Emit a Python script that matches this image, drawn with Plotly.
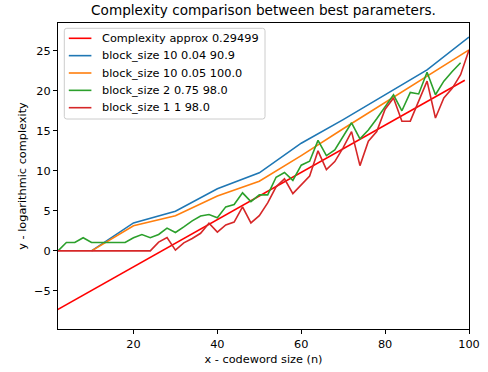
import plotly.graph_objects as go

# Approximation line (endpoints)
approx_x = [0, 99]
approx_y = [-7.88, 21.32]

# block_size 10 series
b10_x = [10, 20, 30, 40, 50, 60, 70, 80, 90, 100]
blue_y = [0, 3.5, 4.95, 7.75, 9.75, 13.45, 16.4, 19.5, 22.6, 26.7]
orange_y = [0, 3.15, 4.4, 6.85, 8.7, 11.9, 15.25, 18.5, 21.8, 25.1]

# block_size 2 series
green_x = list(range(2, 100, 2))
green_y = [0, 1.05, 1.05, 1.65, 1.05, 1.05, 1.05, 1.05, 1.05, 1.65,
           2.05, 1.65, 2.05, 2.85, 2.3, 3.0, 3.75, 4.35, 4.55, 4.15,
           5.5, 5.8, 7.25, 6.15, 7.0, 7.0, 9.2, 9.8, 8.8, 10.7,
           11.2, 13.8, 11.9, 12.6, 14.3, 16.0, 14.0, 15.1, 16.5, 18.0,
           19.5, 17.5, 19.8, 19.6, 22.3, 19.5, 21.2, 22.4, 23.5]

# block_size 1 series
red_x = list(range(2, 101, 2))
red_y = [0, 0, 0, 0, 0, 0, 0, 0, 0, 0,
         0, 0, 1.1, 1.67, 0.1, 1.0, 1.55, 2.2, 3.45, 2.35,
         3.25, 3.6, 5.5, 3.5, 4.4, 6.0, 8.0, 9.0, 7.15, 8.2,
         9.35, 12.5, 10.15, 11.15, 12.9, 14.9, 10.65, 13.7, 14.9, 17.7,
         19.1, 16.2, 16.2, 18.7, 21.2, 16.6, 19.1, 20.3, 22.0, 25.1]

labels = ["Complexity approx 0.29499", "block_size 10 0.04 90.9",
          "block_size 10 0.05 100.0", "block_size 2 0.75 98.0",
          "block_size 1 1 98.0"]
colors = ["#ff0000", "#1f77b4", "#ff7f0e", "#2ca02c", "#d62728"]

W, H = 488, 372
ML, MR, MT, MB = 58, 19, 23, 43
PW, PH = W - ML - MR, H - MT - MB


def px2paper(px, py):
    return (px - ML) / PW, (H - MB - py) / PH


lw = 1.6
fig = go.Figure()
series = [(approx_x, approx_y), (b10_x, blue_y), (b10_x, orange_y),
          (green_x, green_y), (red_x, red_y)]
for (xs, ys), name, col in zip(series, labels, colors):
    fig.add_trace(go.Scatter(x=xs, y=ys, mode="lines", name=name,
                             line=dict(color=col, width=lw),
                             showlegend=False))

font_family = "DejaVu Sans"
fs = 11.3

# Custom legend (matplotlib style)
bx0, by0 = px2paper(64.3, 119)
bx1, by1 = px2paper(265, 28.3)
rx, ry = 2.5 / PW, 2.5 / PH
path = (f"M {bx0+rx},{by0} L {bx1-rx},{by0} Q {bx1},{by0} {bx1},{by0+ry} "
        f"L {bx1},{by1-ry} Q {bx1},{by1} {bx1-rx},{by1} "
        f"L {bx0+rx},{by1} Q {bx0},{by1} {bx0},{by1-ry} "
        f"L {bx0},{by0+ry} Q {bx0},{by0} {bx0+rx},{by0} Z")
shapes = [dict(type="path", xref="paper", yref="paper", path=path,
               fillcolor="rgba(255,255,255,0.8)",
               line=dict(color="#cccccc", width=1), layer="above")]
annotations = []
for i, (name, col) in enumerate(zip(labels, colors)):
    cy = 38.3 + i * 17.35
    x0, yy = px2paper(68.8, cy)
    x1, _ = px2paper(91.4, cy)
    shapes.append(dict(type="line", xref="paper", yref="paper",
                       x0=x0, x1=x1, y0=yy, y1=yy, layer="above",
                       line=dict(color=col, width=lw)))
    tx, _ = px2paper(100.4, cy)
    annotations.append(dict(text=name, xref="paper", yref="paper", x=tx, y=yy,
                            xanchor="left", yanchor="middle", showarrow=False,
                            font=dict(family=font_family, size=fs,
                                      color="black")))

axis_common = dict(showgrid=False, zeroline=False, showline=True, mirror=True,
                   linecolor="black", linewidth=1, ticks="outside", ticklen=4,
                   tickwidth=1, tickcolor="black", automargin=False,
                   tickfont=dict(family=font_family, size=fs, color="black"))

fig.update_layout(
    width=W, height=H,
    margin=dict(l=ML, r=MR, t=MT, b=MB, autoexpand=False),
    paper_bgcolor="white", plot_bgcolor="white",
    font=dict(family=font_family, size=fs, color="black"),
    title=dict(text="Complexity comparison between best parameters.",
               x=(ML + PW / 2) / W, xanchor="center", xref="container",
               y=1 - 10.5 / H, yanchor="middle", yref="container",
               font=dict(family=font_family, size=13.6, color="black")),
    xaxis=dict(range=[2, 100], tickvals=[20, 40, 60, 80, 100],
               title=dict(text="x - codeword size (n)", standoff=5,
                          font=dict(family=font_family, size=fs)),
               **axis_common),
    yaxis=dict(range=[-9.75, 28.46], tickvals=[-5, 0, 5, 10, 15, 20, 25],
               title=dict(text="y - logarithmic complexity", standoff=5,
                          font=dict(family=font_family, size=fs)),
               **axis_common),
    shapes=shapes,
    annotations=annotations,
    showlegend=False,
)

fig.write_html("out.html",
               config={"displayModeBar": False},
               post_script="document.body.style.margin='0';"
                           "document.body.style.overflow='hidden';")
